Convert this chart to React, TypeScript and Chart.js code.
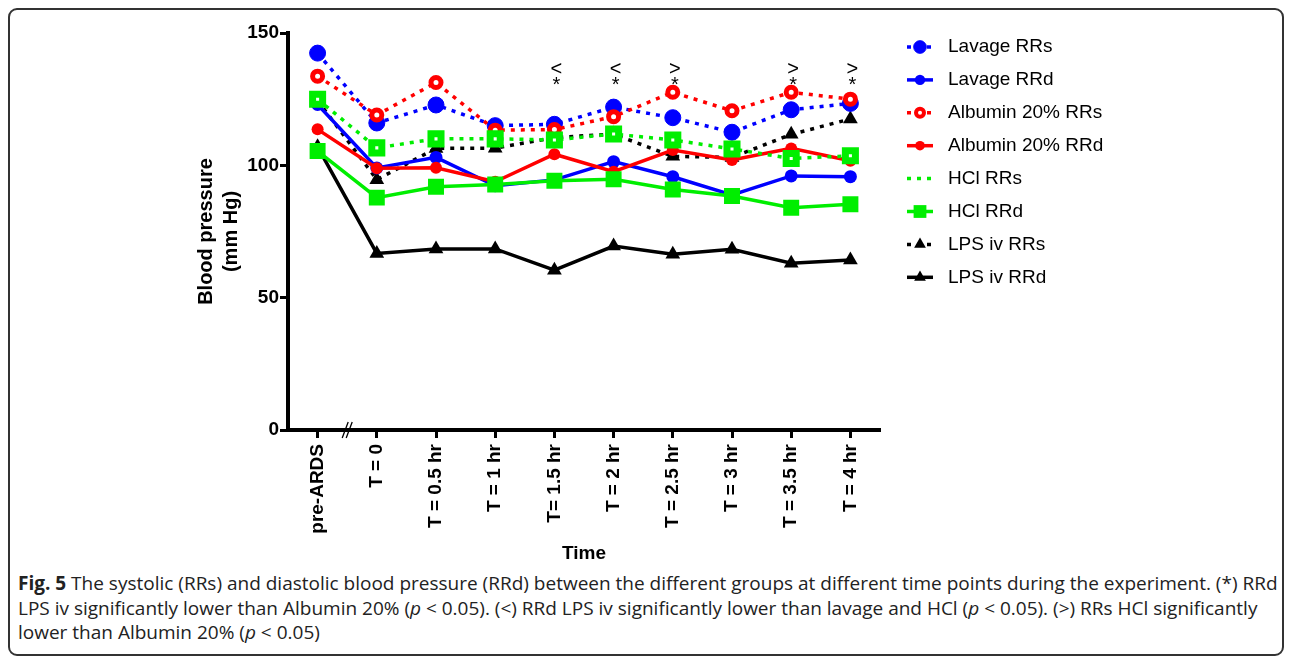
import React, { useEffect, useRef } from 'react';
import { Chart, registerables } from 'chart.js';

Chart.register(...registerables);

// ---- Data ----
const categories = ['pre-ARDS', 'T = 0', 'T = 0.5 hr', 'T = 1 hr', 'T= 1.5 hr', 'T = 2 hr', 'T = 2.5 hr', 'T = 3 hr', 'T = 3.5 hr', 'T = 4 hr'];

const lavageRRs = [142.4, 116, 122.8, 115, 115.5, 122, 118, 112.5, 121, 123.4];
const lavageRRd = [123, 99, 103, 92.3, 94.5, 101.4, 95.7, 88.8, 96, 95.7];
const albuminRRs = [133.7, 119, 131.3, 113.3, 113.5, 118.4, 127.6, 120.6, 127.6, 125];
const albuminRRd = [113.6, 98.9, 99.1, 93.8, 104.2, 97.6, 105.8, 102, 106.4, 101.7];
const hclRRs = [125, 106.6, 110, 110, 109.6, 111.8, 109.6, 106.2, 102.6, 103.6];
const hclRRd = [105.4, 87.8, 91.9, 92.8, 94.2, 94.7, 90.9, 88.4, 84, 85.3];
const lpsRRs = [124.5, 94.6, 106.4, 106.5, 110.5, 111.8, 103.4, 103, 111.7, 117.5];
const lpsRRd = [107, 66.7, 68.4, 68.4, 60.4, 69.5, 66.4, 68.3, 63, 64.2];

const annotTop = ['', '', '', '', '<', '<', '>', '', '>', '>'];
const annotStar = ['', '', '', '', '*', '*', '*', '', '*', '*'];

const yTicks = [0, 50, 100, 150];

// ---- Styles ----
const BLUE = '#0000ff';
const RED = '#ff0000';
const GREEN = '#00ee00';
const BLACK = '#000000';
const DOT = [4, 6];
const FONT = "'Liberation Sans', Arial, sans-serif";

function drawMarker(ctx: CanvasRenderingContext2D, style: string, x: number, y: number, r: number, bg: string, bc: string, bw: number) {
  ctx.beginPath();
  if (style === 'circle') {
    ctx.arc(x, y, r, 0, Math.PI * 2);
  } else if (style === 'rect') {
    const s = Math.SQRT1_2 * r;
    ctx.rect(x - s, y - s, 2 * s, 2 * s);
  } else if (style === 'triangle') {
    let rad = 0;
    ctx.moveTo(x + Math.sin(rad) * r, y - Math.cos(rad) * r);
    rad += (2 * Math.PI) / 3;
    ctx.lineTo(x + Math.sin(rad) * r, y - Math.cos(rad) * r);
    rad += (2 * Math.PI) / 3;
    ctx.lineTo(x + Math.sin(rad) * r, y - Math.cos(rad) * r);
    ctx.closePath();
  }
  ctx.fillStyle = bg;
  ctx.fill();
  if (bw > 0) {
    ctx.lineWidth = bw;
    ctx.strokeStyle = bc;
    ctx.stroke();
  }
}

const LEGEND_LINE_X = 897;
const LEGEND_LINE_W = 26;
const LEGEND_TEXT_X = 938;
const LEGEND_TOP = 37;
const LEGEND_STEP = 32.9;

const legendPlugin = {
  id: 'customLegend',
  afterDraw(chart: any) {
    const ctx: CanvasRenderingContext2D = chart.ctx;
    ctx.save();
    chart.data.datasets.forEach((ds: any, i: number) => {
      const y = LEGEND_TOP + i * LEGEND_STEP;
      ctx.strokeStyle = ds.borderColor;
      ctx.lineWidth = ds.borderWidth;
      ctx.setLineDash(ds.borderDash || []);
      ctx.lineCap = 'butt';
      ctx.beginPath();
      ctx.moveTo(LEGEND_LINE_X, y);
      ctx.lineTo(LEGEND_LINE_X + LEGEND_LINE_W, y);
      ctx.stroke();
      ctx.setLineDash([]);
      if (ds.showLegendMarker) {
        drawMarker(ctx, ds.pointStyle, LEGEND_LINE_X + LEGEND_LINE_W / 2, y, ds.pointRadius * 0.8,
          ds.pointBackgroundColor, ds.pointBorderColor, ds.pointBorderWidth * 0.8);
      }
      ctx.fillStyle = '#000';
      ctx.font = `19px ${FONT}`;
      ctx.textBaseline = 'middle';
      ctx.textAlign = 'left';
      ctx.fillText(ds.label, LEGEND_TEXT_X, y);
    });
    ctx.restore();
  },
};

const annotPlugin = {
  id: 'annot',
  afterDraw(chart: any) {
    const ctx: CanvasRenderingContext2D = chart.ctx;
    const xs = chart.scales.x;
    const top = chart.chartArea.top;
    ctx.save();
    ctx.fillStyle = '#000';
    ctx.font = `20px ${FONT}`;
    ctx.textAlign = 'center';
    ctx.textBaseline = 'alphabetic';
    categories.forEach((_, i) => {
      const x = xs.getPixelForValue(i) + 2;
      if (annotTop[i]) ctx.fillText(annotTop[i], x, top + 42);
      if (annotStar[i]) ctx.fillText(annotStar[i], x, top + 58);
    });
    // axis break marks
    const bx = (xs.getPixelForValue(0) + xs.getPixelForValue(1)) / 2;
    const by = chart.chartArea.bottom;
    ctx.strokeStyle = '#000';
    ctx.lineWidth = 1.3;
    ctx.beginPath();
    ctx.moveTo(bx - 5, by + 8);
    ctx.lineTo(bx + 1, by - 8);
    ctx.moveTo(bx - 1, by + 8);
    ctx.lineTo(bx + 5, by - 8);
    ctx.stroke();
    ctx.restore();
  },
};

function mk(label: string, data: number[], color: string, dotted: boolean, style: string, radius: number, bg: string, bw: number, order: number, showLegendMarker = true) {
  return {
    label,
    data,
    borderColor: color,
    borderWidth: 3.5,
    borderDash: dotted ? DOT : [],
    pointStyle: style,
    pointRadius: radius,
    pointBackgroundColor: bg,
    pointBorderColor: color,
    pointBorderWidth: bw,
    tension: 0,
    fill: false,
    order,
    showLegendMarker,
  };
}

export default function App() {
  const ref = useRef<HTMLCanvasElement | null>(null);

  useEffect(() => {
    document.documentElement.style.overflow = 'hidden';
    const canvas = ref.current;
    if (!canvas) return;
    const chart = new Chart(canvas, {
      type: 'line',
      data: {
        labels: categories,
        datasets: [
          mk('Lavage RRs', lavageRRs, BLUE, true, 'circle', 8, BLUE, 1, 6),
          mk('Lavage RRd', lavageRRd, BLUE, false, 'circle', 6.5, BLUE, 0, 5),
          mk('Albumin 20% RRs', albuminRRs, RED, true, 'circle', 5, '#ffffff', 5, 4),
          mk('Albumin 20% RRd', albuminRRd, RED, false, 'circle', 6, RED, 0, 3),
          mk('HCl RRs', hclRRs, GREEN, true, 'rect', 7.1, '#ffffff', 7, 2, false),
          mk('HCl RRd', hclRRd, GREEN, false, 'rect', 11.3, GREEN, 0, 1),
          mk('LPS iv RRs', lpsRRs, BLACK, true, 'triangle', 8.5, BLACK, 0, 8),
          mk('LPS iv RRd', lpsRRd, BLACK, false, 'triangle', 8.5, BLACK, 0, 7),
        ] as any,
      },
      options: {
        responsive: false,
        animation: false,
        devicePixelRatio: 1,
        layout: { padding: { left: 175, top: 23, right: 402, bottom: 0 } },
        plugins: {
          legend: { display: false },
          tooltip: { enabled: false },
        },
        scales: {
          x: {
            type: 'category',
            offset: true,
            afterFit: (s: any) => { s.height = 136; },
            grid: { display: true, drawOnChartArea: false, drawTicks: true, tickLength: 8, tickWidth: 3, tickColor: '#000', offset: false },
            border: { display: true, color: '#000', width: 4 },
            ticks: {
              color: '#000',
              font: { family: FONT, weight: 'bold', size: 19 },
              minRotation: 90,
              maxRotation: 90,
              autoSkip: false,
              padding: 6,
            },
            title: {
              display: true,
              text: 'Time',
              color: '#000',
              font: { family: FONT, weight: 'bold', size: 19 },
              padding: { top: 0, bottom: 1 },
            },
          },
          y: {
            min: 0,
            max: 150,
            afterFit: (s: any) => { s.width = 103; },
            afterBuildTicks: (s: any) => { s.ticks = yTicks.map((v) => ({ value: v })); },
            grid: { display: true, drawOnChartArea: false, drawTicks: true, tickLength: 8, tickWidth: 3, tickColor: '#000' },
            border: { display: true, color: '#000', width: 4 },
            ticks: {
              color: '#000',
              font: { family: FONT, weight: 'bold', size: 19 },
              padding: 1,
            },
            title: {
              display: true,
              text: ['Blood pressure', '(mm Hg)'],
              color: '#000',
              font: { family: FONT, weight: 'bold', size: 20, lineHeight: 1.25 },
              padding: { top: 8.5, bottom: 0 },
            },
          },
        },
      } as any,
      plugins: [legendPlugin, annotPlugin],
    });
    return () => chart.destroy();
  }, []);

  return (
    <div
      style={{
        position: 'relative',
        width: 1276,
        height: 648,
        boxSizing: 'border-box',
        border: '2px solid #333',
        borderRadius: 9,
        background: '#fff',
      }}
    >
      <canvas ref={ref} width={1272} height={556} style={{ position: 'absolute', left: 0, top: 0, width: 1272, height: 556 }} />
      <div
        style={{
          position: 'absolute',
          left: 8,
          top: 561,
          whiteSpace: 'nowrap',
          fontFamily: "'Open Sans', sans-serif",
          fontSize: 19,
          lineHeight: '24.5px',
          color: '#222',
        }}
      >
        <b>Fig. 5</b> The systolic (RRs) and diastolic blood pressure (RRd) between the different groups at different time points during the experiment. (*) RRd
        <br />
        LPS iv significantly lower than Albumin 20% (<i>p</i> &lt; 0.05). (&lt;) RRd LPS iv significantly lower than lavage and HCl (<i>p</i> &lt; 0.05). (&gt;) RRs HCl significantly
        <br />
        lower than Albumin 20% (<i>p</i> &lt; 0.05)
      </div>
    </div>
  );
}
